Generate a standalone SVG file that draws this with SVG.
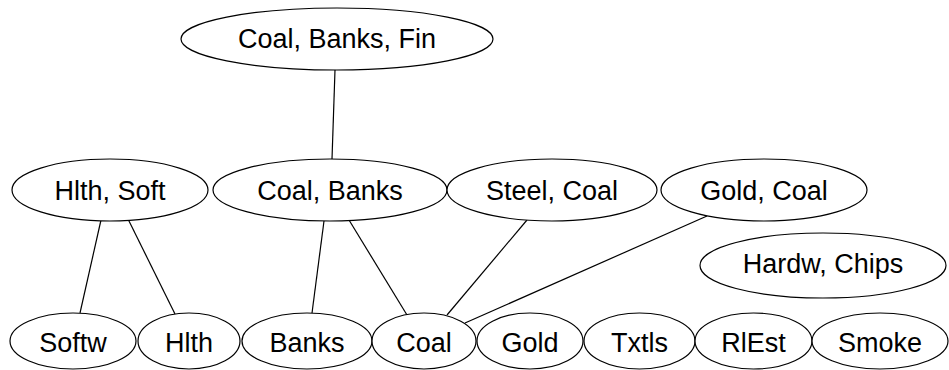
<svg xmlns="http://www.w3.org/2000/svg" width="949" height="370" viewBox="0 0 949 370">
<style>
ellipse{fill:#fff;stroke:#000;stroke-width:1.2}
line{stroke:#000;stroke-width:1.2}
text{font-family:"Liberation Sans",Arial,sans-serif;font-size:27px;text-anchor:middle;fill:#000}
</style>
<rect width="949" height="370" fill="#fff"/>
<g id="edges">
<line x1="335" y1="70" x2="332" y2="159"/>
<line x1="101" y1="220" x2="80" y2="313"/>
<line x1="128" y1="219" x2="175" y2="314"/>
<line x1="324" y1="221" x2="312" y2="313"/>
<line x1="349" y1="220" x2="407" y2="315"/>
<line x1="527" y1="220" x2="447" y2="315"/>
<line x1="707" y1="216" x2="465" y2="323"/>
</g>
<g id="n_top"><ellipse cx="337" cy="39" rx="156" ry="31"/><text x="337" y="48">Coal, Banks, Fin</text></g>
<g id="n_hlthsoft"><ellipse cx="110" cy="190" rx="98" ry="31"/><text x="110" y="200">Hlth, Soft</text></g>
<g id="n_coalbanks"><ellipse cx="330" cy="190" rx="117" ry="31"/><text x="330" y="200">Coal, Banks</text></g>
<g id="n_steelcoal"><ellipse cx="552" cy="190" rx="105" ry="31"/><text x="552" y="200">Steel, Coal</text></g>
<g id="n_goldcoal"><ellipse cx="764" cy="190" rx="103" ry="31"/><text x="764" y="200">Gold, Coal</text></g>
<g id="n_hardw"><ellipse cx="823" cy="265.5" rx="123" ry="32.5"/><text x="823" y="273">Hardw, Chips</text></g>
<g id="n_softw"><ellipse cx="73" cy="341" rx="63" ry="28"/><text x="73" y="352">Softw</text></g>
<g id="n_hlth"><ellipse cx="189" cy="341" rx="51" ry="28"/><text x="189" y="352">Hlth</text></g>
<g id="n_banks"><ellipse cx="307" cy="341" rx="65" ry="28"/><text x="307" y="352">Banks</text></g>
<g id="n_coal"><ellipse cx="424" cy="341" rx="52" ry="28"/><text x="424" y="352">Coal</text></g>
<g id="n_gold"><ellipse cx="530" cy="341" rx="53" ry="28"/><text x="530" y="352">Gold</text></g>
<g id="n_txtls"><ellipse cx="639.5" cy="341" rx="55.5" ry="28"/><text x="639.5" y="352">Txtls</text></g>
<g id="n_rlest"><ellipse cx="753.5" cy="341" rx="58.5" ry="28"/><text x="753.5" y="352">RlEst</text></g>
<g id="n_smoke"><ellipse cx="880" cy="341" rx="68" ry="28"/><text x="880" y="352">Smoke</text></g>
</svg>
